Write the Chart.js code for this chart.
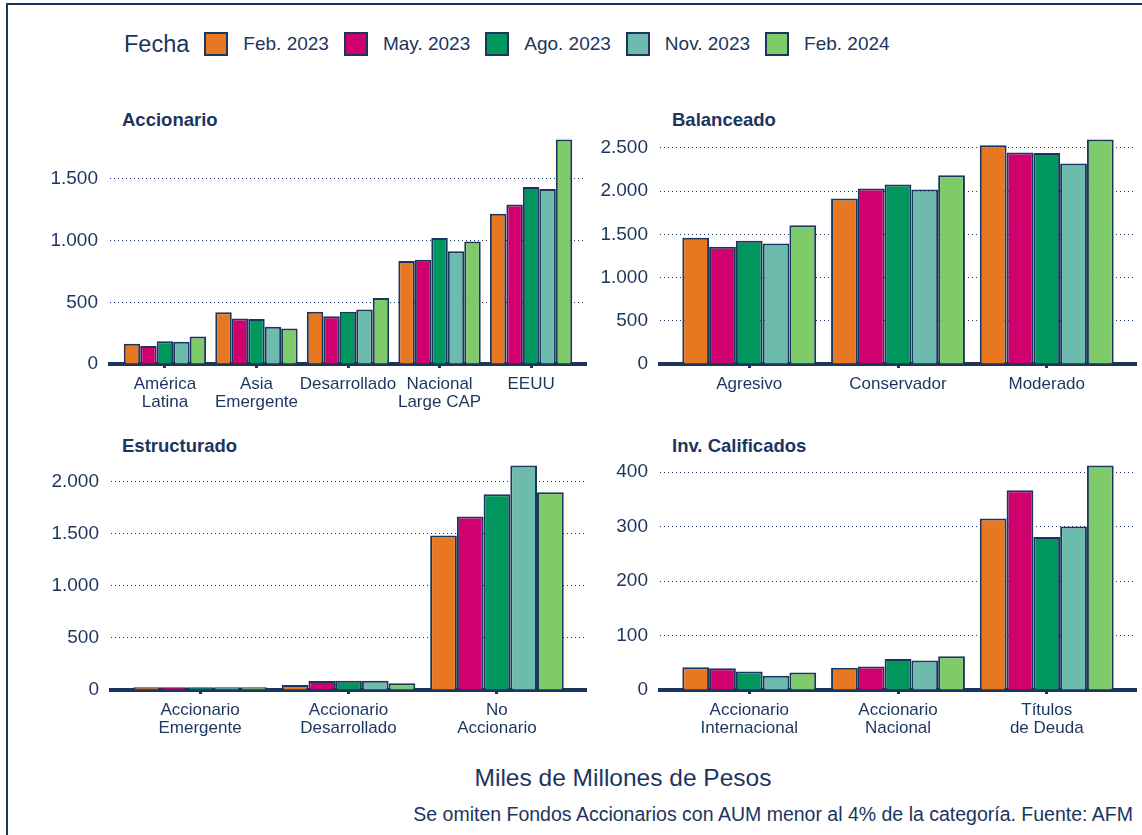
<!DOCTYPE html>
<html>
<head>
<meta charset="utf-8">
<script src="https://cdn.jsdelivr.net/npm/chart.js@4.4.0/dist/chart.umd.min.js"></script>
<style>
  html, body { margin:0; padding:0; width:1142px; height:835px; overflow:hidden; background:#ffffff;
    font-family:"Liberation Sans", Arial, sans-serif; color:#1C355E; }
  #frame { position:absolute; left:6px; top:3px; width:1300px; height:1000px; border:2px solid #1C355E; box-sizing:border-box; }
  canvas { position:absolute; }
  .ptitle { position:absolute; font-weight:bold; font-size:18.5px; line-height:20px; white-space:nowrap; }
  #legend { position:absolute; left:124px; top:30px; height:28px; display:flex; align-items:center; white-space:nowrap; }
  #legend .lt { font-size:23.5px; margin-right:15px; }
  #legend .box { width:24px; height:24px; box-sizing:border-box; border:2px solid #1C355E; margin-right:15px; }
  #legend .lab { font-size:19px; margin-right:15px; }
  #xtitle { position:absolute; left:110px; width:1026px; top:764px; text-align:center; font-size:24.5px; line-height:28px; }
  #caption { position:absolute; right:9px; top:802px; font-size:19.5px; line-height:24px; white-space:nowrap; }
</style>
</head>
<body>
<div id="frame"></div>
<div id="legend"></div>
<div class="ptitle" style="left:122px; top:110px;">Accionario</div>
<div class="ptitle" style="left:672px; top:110px;">Balanceado</div>
<div class="ptitle" style="left:122px; top:436px;">Estructurado</div>
<div class="ptitle" style="left:672px; top:436px;">Inv. Calificados</div>
<canvas id="c1" width="600" height="315" style="left:0px; top:105px;"></canvas>
<canvas id="c2" width="582" height="315" style="left:560px; top:105px;"></canvas>
<canvas id="c3" width="600" height="315" style="left:0px; top:431px;"></canvas>
<canvas id="c4" width="582" height="315" style="left:560px; top:431px;"></canvas>
<div id="xtitle">Miles de Millones de Pesos</div>
<div id="caption">Se omiten Fondos Accionarios con AUM menor al 4% de la categoría. Fuente: AFM</div>
<script>
// ---------- data ----------
const legendTitle = 'Fecha';
const seriesLabels = ['Feb. 2023', 'May. 2023', 'Ago. 2023', 'Nov. 2023', 'Feb. 2024'];
const seriesColors = ['#E87722', '#D0006F', '#00965E', '#6CBBAD', '#7FCB6A'];

// Accionario
const accionarioCats = [['América', 'Latina'], ['Asia', 'Emergente'], 'Desarrollado', ['Nacional', 'Large CAP'], 'EEUU'];
const accionarioVals = [
  [165, 420, 423, 835, 1218],   // Feb. 2023
  [145, 369, 388, 846, 1294],   // May. 2023
  [185, 364, 423, 1021, 1434],  // Ago. 2023
  [180, 302, 442, 914, 1418],   // Nov. 2023
  [222, 288, 536, 994, 1819]    // Feb. 2024
];
const accionarioTicks = [0, 500, 1000, 1500];

// Balanceado
const balanceadoCats = ['Agresivo', 'Conservador', 'Moderado'];
const balanceadoVals = [
  [1460, 1914, 2531],
  [1356, 2030, 2446],
  [1425, 2076, 2442],
  [1394, 2018, 2319],
  [1606, 2184, 2596]
];
const balanceadoTicks = [0, 500, 1000, 1500, 2000, 2500];

// Estructurado
const estructuradoCats = [['Accionario', 'Emergente'], ['Accionario', 'Desarrollado'], ['No', 'Accionario']];
const estructuradoVals = [
  [27, 48, 1483],
  [27, 86, 1665],
  [27, 89, 1879],
  [27, 89, 2153],
  [27, 64, 1898]
];
const estructuradoTicks = [0, 500, 1000, 1500, 2000];

// Inv. Calificados
const invCalCats = [['Accionario', 'Internacional'], ['Accionario', 'Nacional'], ['Títulos', 'de Deuda']];
const invCalVals = [
  [42, 41, 315],
  [40, 43, 367],
  [34, 57, 281],
  [26, 54, 300],
  [32, 62, 412]
];
const invCalTicks = [0, 100, 200, 300, 400];

// ---------- styling ----------
const NAVY = '#1C355E';
const FONT = '"Liberation Sans", Arial, sans-serif';

// legend (HTML, built from the series arrays)
(function () {
  const lg = document.getElementById('legend');
  const t = document.createElement('span'); t.className = 'lt'; t.textContent = legendTitle; lg.appendChild(t);
  seriesLabels.forEach((lab, i) => {
    const b = document.createElement('span'); b.className = 'box'; b.style.background = seriesColors[i]; lg.appendChild(b);
    const l = document.createElement('span'); l.className = 'lab'; l.textContent = lab; lg.appendChild(l);
  });
})();

function fmt(v) { return String(Math.round(v)).replace(/\B(?=(\d{3})+(?!\d))/g, '.'); }

function makeChart(id, cats, vals, yTicks, yWidth, padRight) {
  const maxV = Math.max(...vals.flat()) * 1.05;
  return new Chart(document.getElementById(id), {
    type: 'bar',
    data: {
      datasets: vals.map((arr, s) => ({
        label: seriesLabels[s],
        data: arr.map((v, i) => ({ x: i, y: v })),
        backgroundColor: seriesColors[s],
        borderColor: NAVY,
        borderWidth: 2,
        borderSkipped: 'bottom',
        categoryPercentage: 0.9,
        barPercentage: 1.0
      }))
    },
    options: {
      responsive: false,
      animation: false,
      events: [],
      layout: { padding: { top: 0, right: padRight, bottom: 0, left: 0 } },
      plugins: { legend: { display: false }, tooltip: { enabled: false } },
      scales: {
        x: {
          type: 'linear',
          min: -0.6,
          max: cats.length - 0.4,
          offset: false,
          afterBuildTicks: (sc) => { sc.ticks = cats.map((_, i) => ({ value: i })); },
          afterFit: (sc) => { sc.height = 56; },
          ticks: {
            autoSkip: false, maxRotation: 0, minRotation: 0,
            color: NAVY, padding: 7,
            font: { family: FONT, size: 17, lineHeight: 1.06 },
            callback: (v) => cats[v]
          },
          grid: { offset: false, drawOnChartArea: false, drawTicks: true, tickLength: 4, tickWidth: 3, tickColor: NAVY },
          border: { display: true, color: NAVY, width: 4 }
        },
        y: {
          min: 0,
          max: maxV,
          afterBuildTicks: (sc) => { sc.ticks = yTicks.filter(v => v <= maxV).map(v => ({ value: v })); },
          afterFit: (sc) => { sc.width = yWidth; },
          ticks: {
            color: NAVY, padding: 12,
            font: { family: FONT, size: 19 },
            callback: (v) => fmt(v)
          },
          grid: { color: NAVY, lineWidth: 1, drawTicks: false },
          border: { display: false, dash: [1, 3] }
        }
      }
    }
  });
}

makeChart('c1', accionarioCats, accionarioVals, accionarioTicks, 110, 14);
makeChart('c2', balanceadoCats, balanceadoVals, balanceadoTicks, 100, 6);
makeChart('c3', estructuradoCats, estructuradoVals, estructuradoTicks, 111, 14);
makeChart('c4', invCalCats, invCalVals, invCalTicks, 100, 6);
</script>
</body>
</html>
